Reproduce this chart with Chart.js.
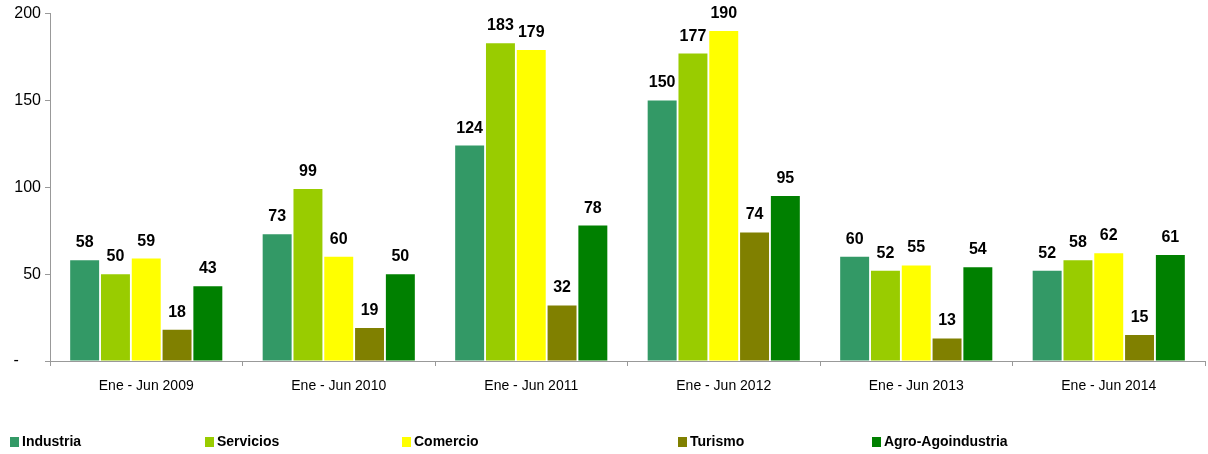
<!DOCTYPE html>
<html>
<head>
<meta charset="utf-8">
<script src="https://cdn.jsdelivr.net/npm/chart.js@4/dist/chart.umd.min.js"></script>
<style>
    body { margin: 0; background: #fff; }
    #wrap { position: relative; width: 1208px; height: 454px; }
    .leg { position: absolute; top: 433px; font: bold 14px 'Liberation Sans', Arial, sans-serif; color: #000; white-space: nowrap; }
    .leg i { display: inline-block; width: 9px; height: 10px; margin-right: 3px; vertical-align: -1px; }
</style>
</head>
<body>
<div id="wrap">
    <canvas id="chart" width="1208" height="454"></canvas>
    <div id="legend"></div>
</div>
<script>
// 数据
const periods = ['Ene - Jun 2009', 'Ene - Jun 2010', 'Ene - Jun 2011', 'Ene - Jun 2012', 'Ene - Jun 2013', 'Ene - Jun 2014'];
const seriesNames = ['Industria', 'Servicios', 'Comercio', 'Turismo', 'Agro-Agoindustria'];
const industria = [58, 73, 124, 150, 60, 52];
const servicios = [50, 99, 183, 177, 52, 58];
const comercio = [59, 60, 179, 190, 55, 62];
const turismo = [18, 19, 32, 74, 13, 15];
const agro = [43, 50, 78, 95, 54, 61];
const yTicks = [0, 50, 100, 150, 200];

const colors = ['#339966', '#99CC00', '#FFFF00', '#808000', '#008000'];
const legendX = [10, 205, 402, 678, 872]; // 图例位置

const allValues = [industria, servicios, comercio, turismo, agro];

// 数据标签
const valueLabels = {
    id: 'valueLabels',
    afterDatasetsDraw(chart) {
        const ctx = chart.ctx;
        ctx.save();
        ctx.font = 'bold 16px "Liberation Sans Narrow", "Liberation Sans", Arial, sans-serif';
        ctx.fillStyle = '#000';
        ctx.textAlign = 'center';
        ctx.textBaseline = 'alphabetic';
        chart.data.datasets.forEach((ds, i) => {
            chart.getDatasetMeta(i).data.forEach((bar, j) => {
                ctx.fillText(ds.data[j], bar.x, bar.y - 13);
            });
        });
        ctx.restore();
    }
};

new Chart(document.getElementById('chart'), {
    type: 'bar',
    data: {
        labels: periods,
        datasets: seriesNames.map((name, i) => ({
            label: name,
            data: allValues[i],
            backgroundColor: colors[i],
            borderWidth: 0,
            barPercentage: 0.94,
            categoryPercentage: 0.8
        }))
    },
    options: {
        responsive: false,
        animation: false,
        layout: { padding: { top: 13, right: 3, left: 0, bottom: 0 } },
        scales: {
            x: {
                grid: { offset: true, drawOnChartArea: false, tickLength: 5, color: '#999' },
                border: { color: '#999' },
                ticks: { color: '#000', padding: 12, font: { size: 14, family: '"Liberation Sans", Arial, sans-serif' } },
                afterFit(scale) { scale.height = 93; }
            },
            y: {
                min: 0,
                max: 200,
                afterBuildTicks(scale) { scale.ticks = yTicks.map(v => ({ value: v })); },
                grid: { drawOnChartArea: false, tickLength: 5, color: '#999' },
                border: { color: '#999' },
                ticks: {
                    color: '#000',
                    padding: 4,
                    font: { size: 16, family: '"Liberation Sans", Arial, sans-serif' },
                    callback: v => v === 0 ? '-     ' : v // 零值显示为 "-"
                },
                afterFit(scale) { scale.width = 50; }
            }
        },
        plugins: {
            legend: { display: false },
            tooltip: { enabled: false }
        }
    },
    plugins: [valueLabels]
});

// 图例
const legend = document.getElementById('legend');
seriesNames.forEach((name, i) => {
    const d = document.createElement('div');
    d.className = 'leg';
    d.style.left = legendX[i] + 'px';
    d.innerHTML = '<i style="background:' + colors[i] + '"></i>' + name;
    legend.appendChild(d);
});
</script>
</body>
</html>
